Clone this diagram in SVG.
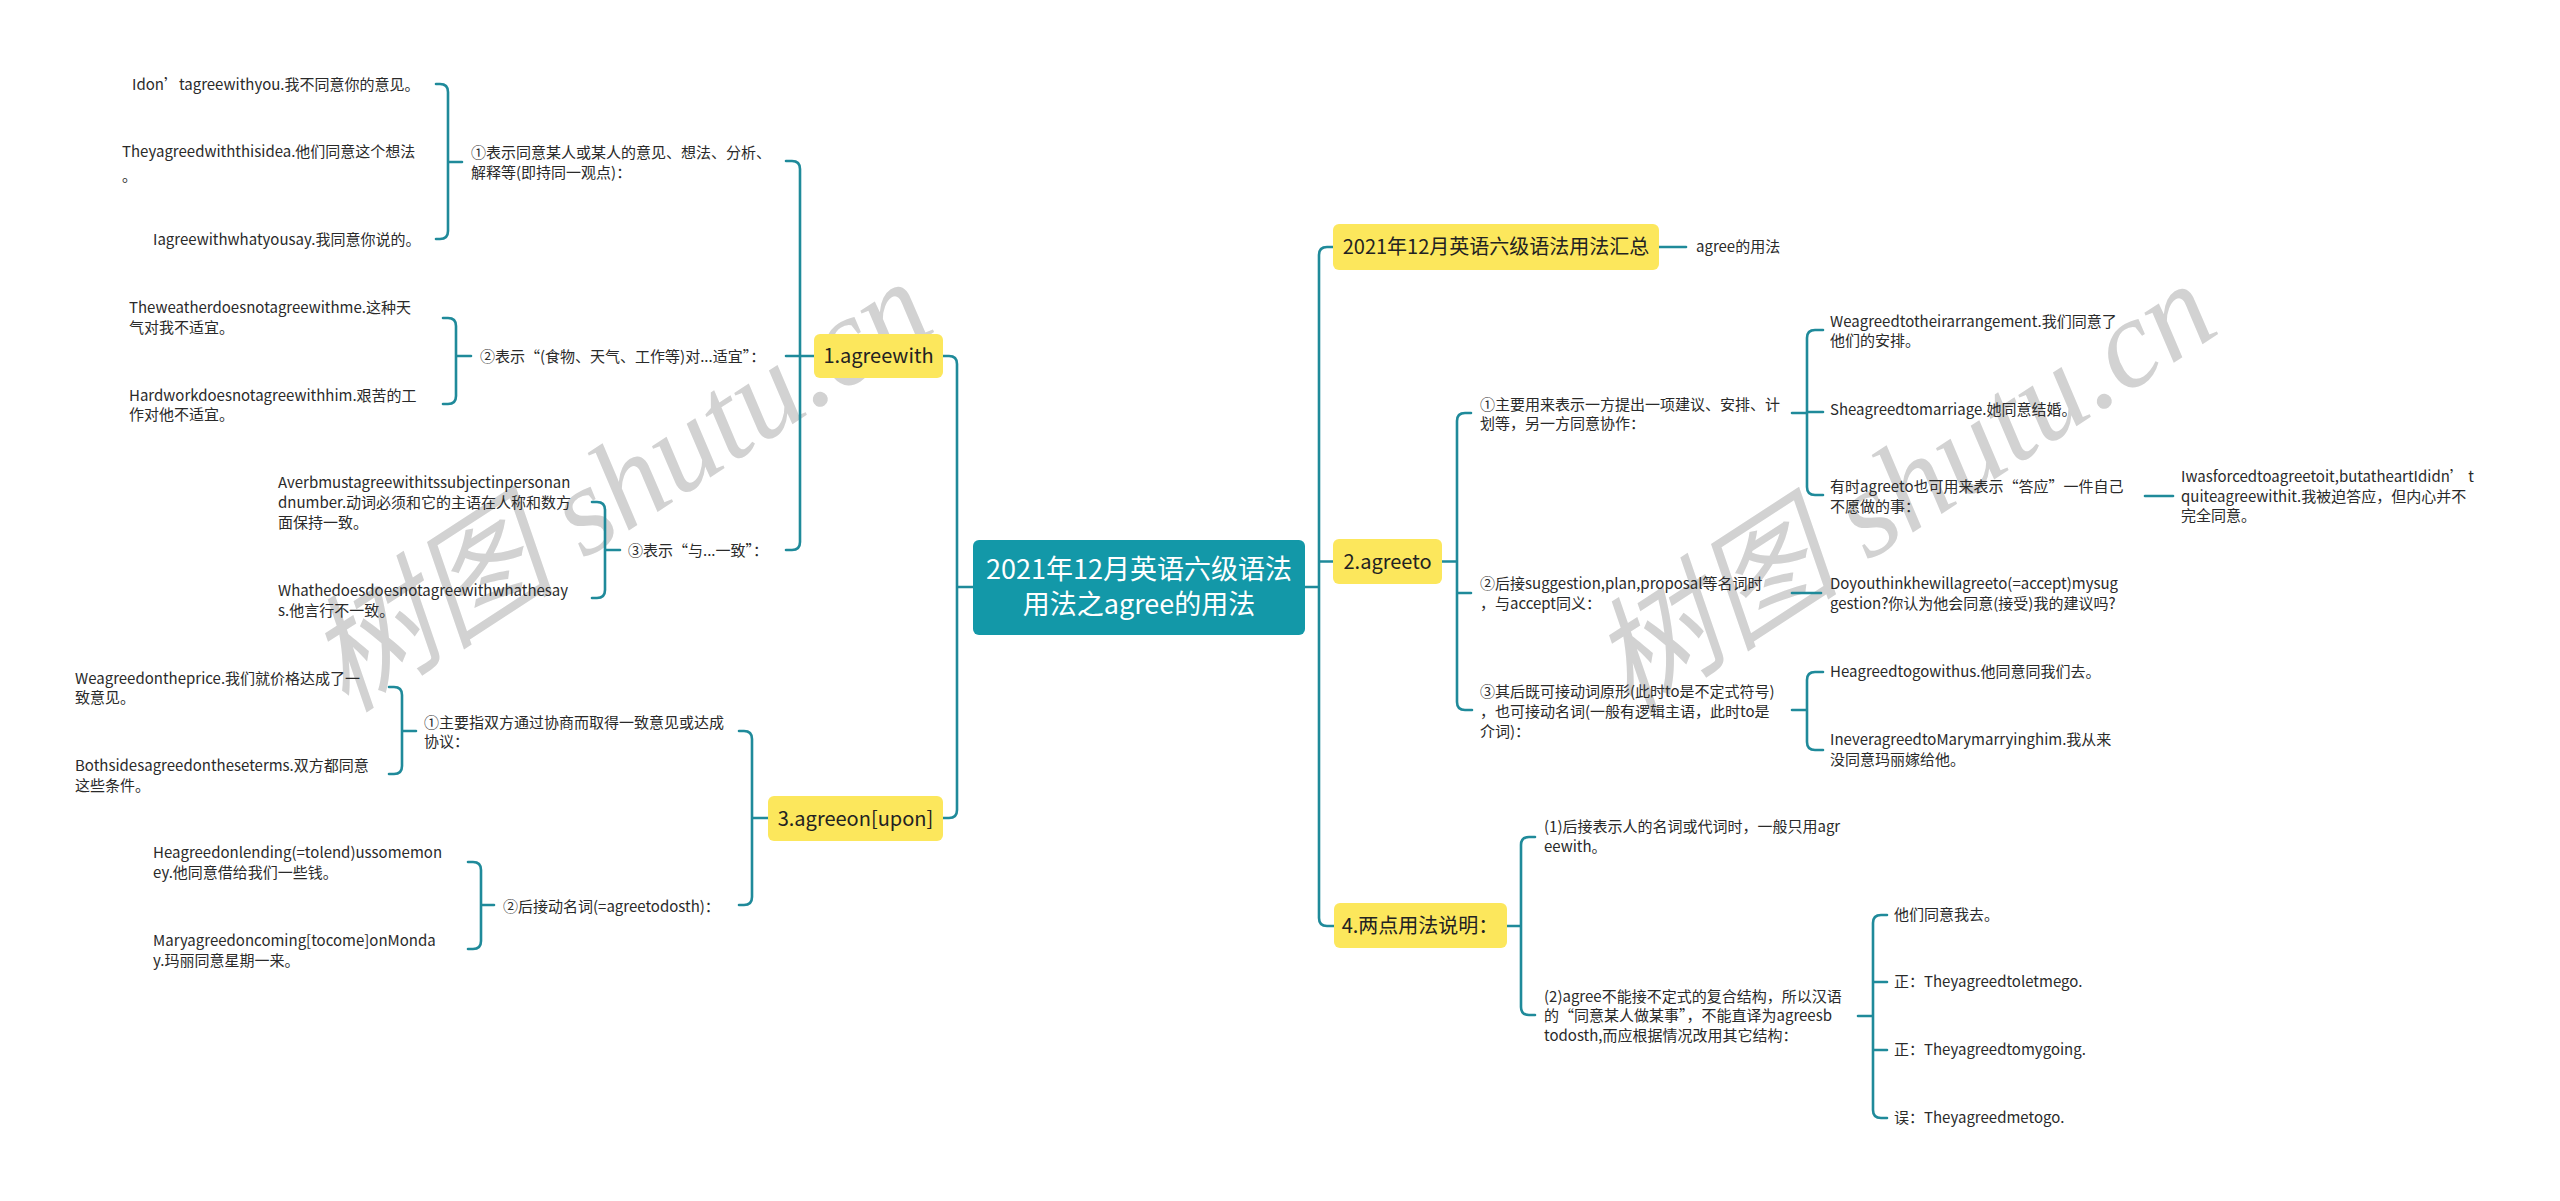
<svg xmlns="http://www.w3.org/2000/svg" width="2560" height="1201" viewBox="0 0 2560 1201">
<style>
.ln{fill:none;stroke:#1f8a9a;stroke-width:2.6;stroke-linecap:round}
.t{font-family:"Noto Sans CJK SC","Noto Sans",sans-serif;font-size:15px;fill:#2a2a2a}
.t2{font-family:"Noto Sans CJK SC","Noto Sans",sans-serif;font-size:20px;fill:#222;text-anchor:middle}
.box{fill:#fce75c}
.root{fill:#1398a8}
.rt{font-family:"Noto Sans CJK SC","Noto Sans",sans-serif;font-size:27px;fill:#fff;text-anchor:middle}
.wm{font-family:"Liberation Serif","Noto Sans CJK SC",serif;font-style:italic;font-size:126px;fill:#d2d2d2}
</style>
<rect width="2560" height="1201" fill="#fff"/>
<g id="watermark">
<text class="wm" transform="translate(346,714) rotate(-33)">树图 shutu.cn</text>
<text class="wm" transform="translate(1630,716) rotate(-33)">树图 shutu.cn</text>
</g>
<g id="connectors">
<path class="ln" d="M943,356 H949 Q957,356 957,364 V810 Q957,818 949,818 H943 M973,587 H957"/>
<path class="ln" d="M786,161 H792 Q800,161 800,169 V542 Q800,550 792,550 H786 M814,356 H786"/>
<path class="ln" d="M436,84 H440 Q448,84 448,92 V231 Q448,239 440,239 H436 M448,162 H462"/>
<path class="ln" d="M443,318 H448 Q456,318 456,326 V396 Q456,404 448,404 H443 M456,356 H471"/>
<path class="ln" d="M592,502 H597 Q605,502 605,510 V590 Q605,598 597,598 H592 M605,550 H620"/>
<path class="ln" d="M739,731 H744 Q752,731 752,739 V897 Q752,905 744,905 H739 M768,818 H752"/>
<path class="ln" d="M389,687 H394 Q402,687 402,695 V766 Q402,774 394,774 H389 M402,731 H416"/>
<path class="ln" d="M468,862 H473 Q481,862 481,870 V941 Q481,949 473,949 H468 M481,905 H494"/>
<path class="ln" d="M1333,247 H1327 Q1319,247 1319,255 V918 Q1319,926 1327,926 H1334 M1305,587 H1319 M1319,561.5 H1333"/>
<path class="ln" d="M1659,247 H1686"/>
<path class="ln" d="M1442,561.5 H1457 M1471,413 H1465 Q1457,413 1457,421 V702 Q1457,710 1465,710 H1472 M1457,593 H1471"/>
<path class="ln" d="M1792,413 H1807 M1823,330 H1815 Q1807,330 1807,338 V487 Q1807,495 1815,495 H1823 M1807,412 H1823"/>
<path class="ln" d="M2145,496 H2173"/>
<path class="ln" d="M1792,593 H1821"/>
<path class="ln" d="M1792,710 H1807 M1823,672 H1815 Q1807,672 1807,680 V742 Q1807,750 1815,750 H1823"/>
<path class="ln" d="M1507,926 H1521 M1535,837 H1529 Q1521,837 1521,845 V1007 Q1521,1015 1529,1015 H1535"/>
<path class="ln" d="M1858,1016 H1873 M1887,915 H1881 Q1873,915 1873,923 V1110 Q1873,1118 1881,1118 H1887 M1873,982 H1887 M1873,1050 H1887"/>
</g>
<g id="root">
<rect class="root" x="973" y="540" width="332" height="95" rx="6"/>
<text class="rt"><tspan x="1139" y="579">2021年12月英语六级语法</tspan><tspan x="1139" y="614">用法之agree的用法</tspan></text>
</g>
<g id="n-summary">
<rect class="box" x="1333" y="224" width="326" height="46" rx="6"/>
<text class="t2" x="1496" y="254">2021年12月英语六级语法用法汇总</text>
</g>
<g id="n-summary-1"><text class="t" x="1696" y="252">agree的用法</text></g>
<g id="n1">
<rect class="box" x="814" y="334" width="129" height="44" rx="6"/>
<text class="t2" x="878.5" y="363">1.agreewith</text>
</g>
<g id="n1-1"><text class="t"><tspan x="471" y="158">①表示同意某人或某人的意见、想法、分析、</tspan><tspan x="471" y="178">解释等(即持同一观点)：</tspan></text></g>
<g id="n1-1-1"><text class="t" x="132" y="90">Idon’tagreewithyou.我不同意你的意见。</text></g>
<g id="n1-1-2"><text class="t"><tspan x="122" y="157">Theyagreedwiththisidea.他们同意这个想法</tspan><tspan x="122" y="181">。</tspan></text></g>
<g id="n1-1-3"><text class="t" x="153" y="245">Iagreewithwhatyousay.我同意你说的。</text></g>
<g id="n1-2"><text class="t" x="480" y="362">②表示“(食物、天气、工作等)对...适宜”：</text></g>
<g id="n1-2-1"><text class="t"><tspan x="129" y="313">Theweatherdoesnotagreewithme.这种天</tspan><tspan x="129" y="333">气对我不适宜。</tspan></text></g>
<g id="n1-2-2"><text class="t"><tspan x="129" y="401">Hardworkdoesnotagreewithhim.艰苦的工</tspan><tspan x="129" y="420">作对他不适宜。</tspan></text></g>
<g id="n1-3"><text class="t" x="628" y="556">③表示“与...一致”：</text></g>
<g id="n1-3-1"><text class="t"><tspan x="278" y="488">Averbmustagreewithitssubjectinpersonan</tspan><tspan x="278" y="508">dnumber.动词必须和它的主语在人称和数方</tspan><tspan x="278" y="528">面保持一致。</tspan></text></g>
<g id="n1-3-2"><text class="t"><tspan x="278" y="596">Whathedoesdoesnotagreewithwhathesay</tspan><tspan x="278" y="616">s.他言行不一致。</tspan></text></g>
<g id="n3">
<rect class="box" x="768" y="796" width="175" height="45" rx="6"/>
<text class="t2" x="855.5" y="825.5">3.agreeon[upon]</text>
</g>
<g id="n3-1"><text class="t"><tspan x="424" y="728">①主要指双方通过协商而取得一致意见或达成</tspan><tspan x="424" y="747">协议：</tspan></text></g>
<g id="n3-1-1"><text class="t"><tspan x="75" y="684">Weagreedontheprice.我们就价格达成了一</tspan><tspan x="75" y="703">致意见。</tspan></text></g>
<g id="n3-1-2"><text class="t"><tspan x="75" y="771">Bothsidesagreedontheseterms.双方都同意</tspan><tspan x="75" y="791">这些条件。</tspan></text></g>
<g id="n3-2"><text class="t" x="503" y="912">②后接动名词(=agreetodosth)：</text></g>
<g id="n3-2-1"><text class="t"><tspan x="153" y="858">Heagreedonlending(=tolend)ussomemon</tspan><tspan x="153" y="878">ey.他同意借给我们一些钱。</tspan></text></g>
<g id="n3-2-2"><text class="t"><tspan x="153" y="946">Maryagreedoncoming[tocome]onMonda</tspan><tspan x="153" y="966">y.玛丽同意星期一来。</tspan></text></g>
<g id="n2">
<rect class="box" x="1333" y="539" width="109" height="45" rx="6"/>
<text class="t2" x="1387.5" y="568.5">2.agreeto</text>
</g>
<g id="n2-1"><text class="t"><tspan x="1480" y="410">①主要用来表示一方提出一项建议、安排、计</tspan><tspan x="1480" y="429">划等，另一方同意协作：</tspan></text></g>
<g id="n2-1-1"><text class="t"><tspan x="1830" y="327">Weagreedtotheirarrangement.我们同意了</tspan><tspan x="1830" y="346">他们的安排。</tspan></text></g>
<g id="n2-1-2"><text class="t" x="1830" y="415">Sheagreedtomarriage.她同意结婚。</text></g>
<g id="n2-1-3"><text class="t"><tspan x="1830" y="492">有时agreeto也可用来表示“答应”一件自己</tspan><tspan x="1830" y="512">不愿做的事：</tspan></text></g>
<g id="n2-1-3-1"><text class="t"><tspan x="2181" y="482">Iwasforcedtoagreetoit,butatheartIdidn’ t</tspan><tspan x="2181" y="502">quiteagreewithit.我被迫答应，但内心并不</tspan><tspan x="2181" y="521">完全同意。</tspan></text></g>
<g id="n2-2"><text class="t"><tspan x="1480" y="589">②后接suggestion,plan,proposal等名词时</tspan><tspan x="1480" y="609">，与accept同义：</tspan></text></g>
<g id="n2-2-1"><text class="t"><tspan x="1830" y="589">Doyouthinkhewillagreeto(=accept)mysug</tspan><tspan x="1830" y="609">gestion?你认为他会同意(接受)我的建议吗?</tspan></text></g>
<g id="n2-3"><text class="t"><tspan x="1480" y="697">③其后既可接动词原形(此时to是不定式符号)</tspan><tspan x="1480" y="717">，也可接动名词(一般有逻辑主语，此时to是</tspan><tspan x="1480" y="737">介词)：</tspan></text></g>
<g id="n2-3-1"><text class="t" x="1830" y="677">Heagreedtogowithus.他同意同我们去。</text></g>
<g id="n2-3-2"><text class="t"><tspan x="1830" y="745">IneveragreedtoMarymarryinghim.我从来</tspan><tspan x="1830" y="765">没同意玛丽嫁给他。</tspan></text></g>
<g id="n4">
<rect class="box" x="1334" y="903" width="173" height="45" rx="6"/>
<text class="t2" x="1420" y="932.5">4.两点用法说明：</text>
</g>
<g id="n4-1"><text class="t"><tspan x="1544" y="832">(1)后接表示人的名词或代词时，一般只用agr</tspan><tspan x="1544" y="852">eewith。</tspan></text></g>
<g id="n4-2"><text class="t"><tspan x="1544" y="1002">(2)agree不能接不定式的复合结构，所以汉语</tspan><tspan x="1544" y="1021">的“同意某人做某事”，不能直译为agreesb</tspan><tspan x="1544" y="1041">todosth,而应根据情况改用其它结构：</tspan></text></g>
<g id="n4-2-1"><text class="t" x="1894" y="920">他们同意我去。</text></g>
<g id="n4-2-2"><text class="t" x="1894" y="987">正：Theyagreedtoletmego.</text></g>
<g id="n4-2-3"><text class="t" x="1894" y="1055">正：Theyagreedtomygoing.</text></g>
<g id="n4-2-4"><text class="t" x="1894" y="1123">误：Theyagreedmetogo.</text></g>
</svg>
